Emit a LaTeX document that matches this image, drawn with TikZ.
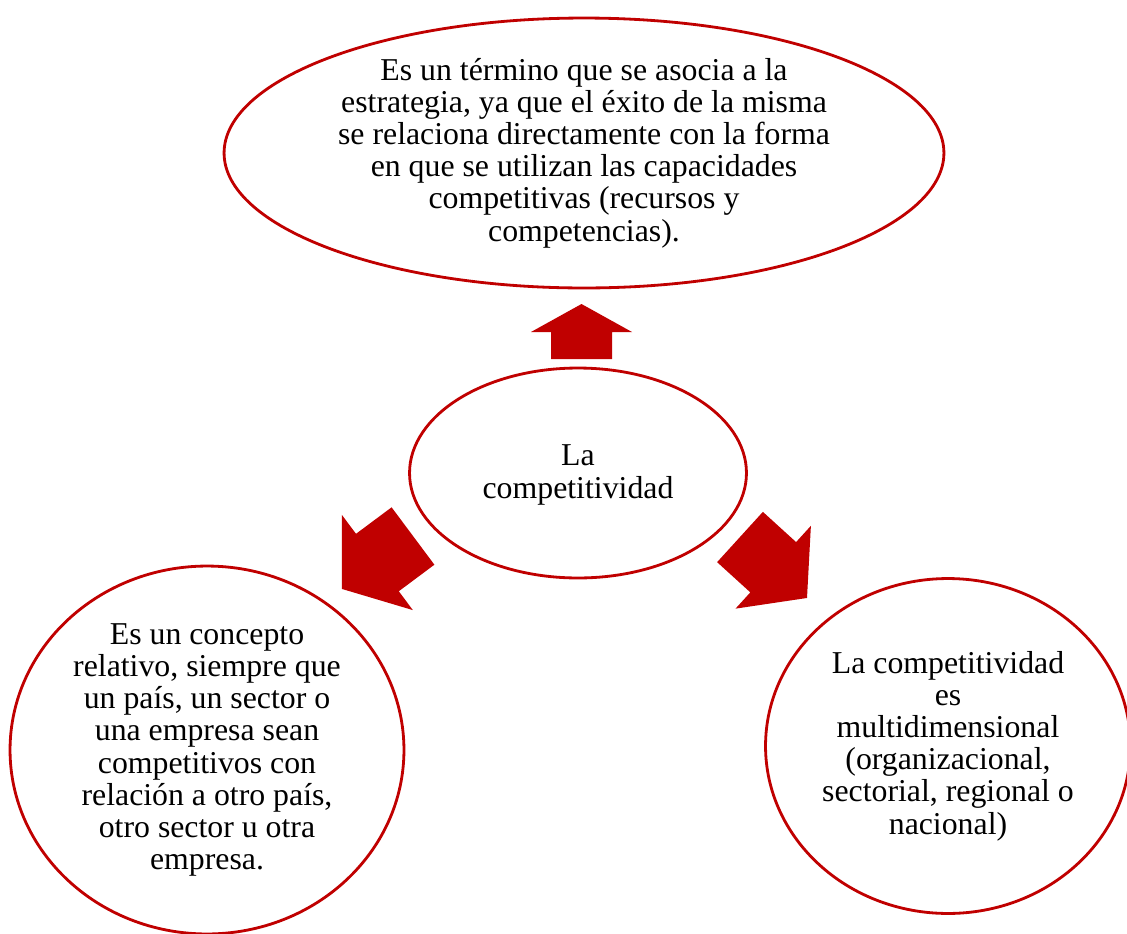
\documentclass[tikz,border=0pt]{standalone}
\usepackage{fontspec}
\setmainfont{Liberation Serif}
\usepackage{xcolor}
\usepackage{tikz}
\usetikzlibrary{shapes.geometric,positioning}
\definecolor{rojo}{RGB}{192,0,0}
\tikzset{
  elipse/.style={ellipse,draw=rojo,line width=1.6pt,fill=white,inner sep=0pt},
  texto/.style={align=center,inner sep=0pt,font=\fontsize{18.1}{18.3}\selectfont},
  bloque/.style={fill=rojo,draw=none}
}
\begin{document}
\begin{tikzpicture}[x=0.02cm,y=-0.02cm]
\useasboundingbox (0,0) rectangle (1127,934);
% ovalos
\node[elipse,minimum width=14.4cm,minimum height=5.4cm] (arriba) at (584,153) {};
\node[elipse,minimum width=6.74cm,minimum height=4.2cm] (centro) at (578,473) {};
\node[elipse,minimum width=7.88cm,minimum height=7.36cm] (izq) at (207,750) {};
\node[elipse,minimum width=7.3cm,minimum height=6.7cm] (der) at (948,746) {};
% textos
\node[texto] (t-arriba) at (arriba) {Es un término que se asocia a la\\estrategia, ya que el éxito de la misma\\se relaciona directamente con la forma\\en que se utilizan las capacidades\\competitivas (recursos y\\competencias).};
\node[texto] (t-centro) at ([yshift=-0.04cm]centro) {La\\competitividad};
\node[texto] (t-izq) at (izq) {Es un concepto\\relativo, siempre que\\un país, un sector o\\una empresa sean\\competitivos con\\relación a otro país,\\otro sector u otra\\empresa.};
\node[texto] (t-der) at (der) {La competitividad\\es\\multidimensional\\(organizacional,\\sectorial, regional o\\nacional)};
% flechas
\fill[bloque,shift={(581.5,359)},rotate=90] (0,-30.5) -- (27,-30.5) -- (27,-50.5) -- (55,0) -- (27,50.5) -- (27,30.5) -- (0,30.5) -- cycle;
\fill[bloque,shift={(413,536)},rotate=216.7] (0,-35.8) -- (44.4,-35.8) -- (44.4,-59.3) -- (88.6,0) -- (44.4,59.3) -- (44.4,35.8) -- (0,35.8) -- cycle;
\fill[bloque,shift={(740,537)},rotate=-42.3] (0,-34) -- (44.9,-34) -- (44.9,-56) -- (90.6,0) -- (44.9,56) -- (44.9,34) -- (0,34) -- cycle;
\end{tikzpicture}
\end{document}
